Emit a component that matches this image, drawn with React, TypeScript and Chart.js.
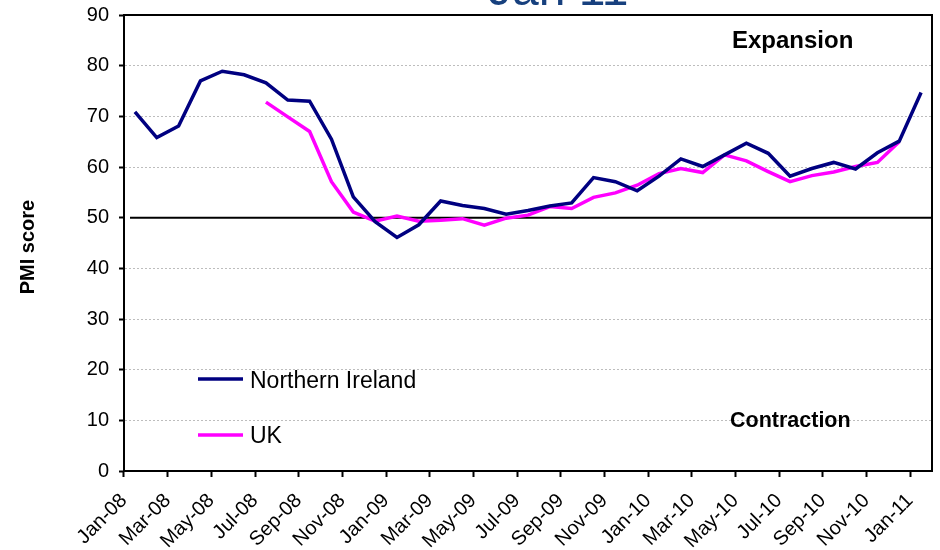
import React, { useEffect, useRef } from 'react';
import { Chart, registerables } from 'chart.js';

Chart.register(...registerables);

const MONTHS = [
  'Jan-08', 'Feb-08', 'Mar-08', 'Apr-08', 'May-08', 'Jun-08', 'Jul-08', 'Aug-08', 'Sep-08', 'Oct-08', 'Nov-08', 'Dec-08',
  'Jan-09', 'Feb-09', 'Mar-09', 'Apr-09', 'May-09', 'Jun-09', 'Jul-09', 'Aug-09', 'Sep-09', 'Oct-09', 'Nov-09', 'Dec-09',
  'Jan-10', 'Feb-10', 'Mar-10', 'Apr-10', 'May-10', 'Jun-10', 'Jul-10', 'Aug-10', 'Sep-10', 'Oct-10', 'Nov-10', 'Dec-10',
  'Jan-11',
];

const NORTHERN_IRELAND = [
  70.9, 65.8, 68.1, 77.0, 78.9, 78.2, 76.6, 73.2, 73.0, 65.5, 54.1, 49.2,
  46.1, 48.6, 53.3, 52.4, 51.8, 50.7, 51.4, 52.3, 52.9, 57.9, 57.1, 55.3,
  58.2, 61.6, 60.1, 62.4, 64.7, 62.7, 58.2, 59.7, 60.9, 59.6, 62.8, 65.1,
  74.7,
];

const UK = [
  null, null, null, null, null, null, 72.8, 69.9, 67.0, 57.1, 51.1, 49.3,
  50.3, 49.3, 49.5, 49.8, 48.5, 49.9, 50.5, 52.2, 51.8, 54.0, 54.9, 56.4,
  58.7, 59.7, 58.9, 62.4, 61.2, 59.1, 57.1, 58.3, 59.0, 60.1, 60.9, 65.0,
  null,
];

const SERIES_NAMES = ['Northern Ireland', 'UK'];
const SERIES_COLORS = ['#000080', '#FF00FF'];

const Y_MIN = 0;
const Y_MAX = 90;
const Y_STEP = 10;
const THRESHOLD = 50;

const TITLE = 'Jan 11';
const Y_TITLE = 'PMI score';
const LABEL_ABOVE = 'Expansion';
const LABEL_BELOW = 'Contraction';

const FONT = "'Liberation Sans', Arial, Helvetica, sans-serif";

const overlayPlugin = {
  id: 'overlay',
  beforeDatasetsDraw(chart: any) {
    const { ctx, chartArea: a, scales } = chart;
    const py = scales.y.getPixelForValue(THRESHOLD);
    ctx.save();
    ctx.strokeStyle = '#000';
    ctx.lineWidth = 2;
    ctx.beginPath();
    ctx.moveTo(a.left + 6, py);
    ctx.lineTo(a.right, py);
    ctx.stroke();
    ctx.restore();
  },
  afterDraw(chart: any) {
    const { ctx, chartArea: a } = chart;
    ctx.save();
    // top and right frame
    ctx.strokeStyle = '#000';
    ctx.lineWidth = 2;
    ctx.beginPath();
    ctx.moveTo(a.left, a.top);
    ctx.lineTo(a.right, a.top);
    ctx.lineTo(a.right, a.bottom);
    ctx.stroke();

    // title (partly cut off at the top)
    ctx.fillStyle = '#17407E';
    ctx.font = `48px ${FONT}`;
    ctx.textAlign = 'left';
    ctx.textBaseline = 'alphabetic';
    ctx.fillText(TITLE, 488, 5);

    // y axis title
    ctx.save();
    ctx.translate(34, 247);
    ctx.rotate(-Math.PI / 2);
    ctx.fillStyle = '#000';
    ctx.font = `bold 20px ${FONT}`;
    ctx.textAlign = 'center';
    ctx.textBaseline = 'alphabetic';
    ctx.fillText(Y_TITLE, 0, 0);
    ctx.restore();

    // annotations
    ctx.fillStyle = '#000';
    ctx.font = `bold 24px ${FONT}`;
    ctx.textAlign = 'left';
    ctx.fillText(LABEL_ABOVE, 732, 48);
    ctx.font = `bold 21.5px ${FONT}`;
    ctx.fillText(LABEL_BELOW, 730, 427);

    // legend inside the plot
    const ds = chart.data.datasets;
    const rows = [{ y: 379, base: 388 }, { y: 435, base: 443 }];
    ds.forEach((d: any, i: number) => {
      const r = rows[i];
      ctx.strokeStyle = d.borderColor;
      ctx.lineWidth = 3.5;
      ctx.beginPath();
      ctx.moveTo(198, r.y);
      ctx.lineTo(243, r.y);
      ctx.stroke();
      ctx.fillStyle = '#000';
      ctx.font = `23px ${FONT}`;
      ctx.fillText(d.label, 250, r.base);
    });
    ctx.restore();
  },
};

export default function App() {
  const ref = useRef<HTMLCanvasElement | null>(null);

  useEffect(() => {
    document.body.style.margin = '0';
    const canvas = ref.current;
    if (!canvas) return;
    Chart.defaults.font.family = FONT;
    Chart.defaults.color = '#000';

    const chart = new Chart(canvas, {
      type: 'line',
      data: {
        labels: MONTHS,
        datasets: [
          {
            label: SERIES_NAMES[0],
            data: NORTHERN_IRELAND,
            borderColor: SERIES_COLORS[0],
            backgroundColor: SERIES_COLORS[0],
            borderWidth: 3.5,
            pointRadius: 0,
            tension: 0,
            fill: false,
          },
          {
            label: SERIES_NAMES[1],
            data: UK,
            borderColor: SERIES_COLORS[1],
            backgroundColor: SERIES_COLORS[1],
            borderWidth: 3.5,
            pointRadius: 0,
            tension: 0,
            fill: false,
          },
        ],
      },
      options: {
        animation: false,
        responsive: false,
        maintainAspectRatio: false,
        layout: { padding: { left: 0, top: 15, right: 8, bottom: 0 } },
        plugins: {
          legend: { display: false },
          title: { display: false },
          tooltip: { enabled: false },
        },
        scales: {
          x: {
            type: 'category',
            offset: true,
            grid: {
              offset: true,
              drawOnChartArea: false,
              drawTicks: true,
              tickLength: 6,
              tickWidth: 2,
              tickColor: (c: any) => (c.index % 2 === 0 ? '#000' : 'rgba(0,0,0,0)'),
            },
            border: { display: true, color: '#000', width: 2 },
            ticks: {
              autoSkip: false,
              minRotation: 45,
              maxRotation: 45,
              padding: 12,
              labelOffset: -11,
              font: { size: 20 },
              color: '#000',
              callback: (_v: any, i: number) => (i % 2 === 0 ? MONTHS[i] : ''),
            },
            afterFit: (s: any) => {
              s.height = 79;
              s.paddingLeft = 0;
              s.paddingRight = 0;
              s.paddingTop = 0;
              s.paddingBottom = 0;
            },
          },
          y: {
            min: Y_MIN,
            max: Y_MAX,
            ticks: {
              stepSize: Y_STEP,
              padding: 10,
              font: { size: 20 },
              color: '#000',
            },
            grid: {
              drawTicks: true,
              tickLength: 5,
              tickWidth: 2,
              tickColor: '#000',
              lineWidth: 1,
              color: (c: any) => {
                const v = c.tick ? c.tick.value : null;
                return v === Y_MIN || v === Y_MAX || v === THRESHOLD ? 'rgba(0,0,0,0)' : '#BDBDBD';
              },
            },
            border: { display: true, color: '#000', width: 2, dash: [2, 2] },
            afterFit: (s: any) => {
              s.width = 124;
              s.paddingLeft = 0;
              s.paddingRight = 0;
              s.paddingTop = 0;
              s.paddingBottom = 0;
            },
          },
        },
      },
      plugins: [overlayPlugin],
    } as any);

    return () => chart.destroy();
  }, []);

  return (
    <div style={{ width: 940, height: 550 }}>
      <canvas ref={ref} width={940} height={550} style={{ display: 'block' }} />
    </div>
  );
}
